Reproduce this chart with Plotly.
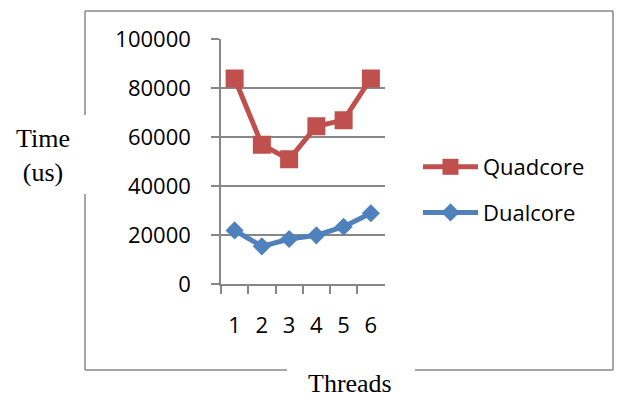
import plotly.graph_objects as go

threads = ["1", "2", "3", "4", "5", "6"]
quadcore = [84000, 57000, 51000, 64500, 67000, 84000]
dualcore = [22000, 15500, 18500, 20000, 23500, 29000]
y_ticks = [0, 20000, 40000, 60000, 80000, 100000]

W, H = 617, 398
RED = "#C0504D"
BLUE = "#4F81BD"
GRID = "#878787"


def px(x):
    return x / W


def py(y):
    return 1 - y / H


fig = go.Figure()
fig.add_trace(go.Scatter(
    x=threads, y=quadcore, name="Quadcore", mode="lines+markers",
    line=dict(color=RED, width=5), legendgroup="q",
    marker=dict(symbol="square", size=18, color=RED),
))
fig.add_trace(go.Scatter(
    x=threads, y=dualcore, name="Dualcore", mode="lines+markers",
    line=dict(color=BLUE, width=5), legendgroup="d",
    marker=dict(symbol="diamond", size=14, color=BLUE),
))

frame = [
    ((85, 11), (613, 11)),
    ((613, 11), (613, 370)),
    ((85, 370), (287, 370)),
    ((415, 370), (613, 370)),
    ((85, 11), (85, 115)),
    ((85, 194), (85, 370)),
]
shapes = [
    dict(type="line", xref="paper", yref="paper",
         x0=px(a[0]), y0=py(a[1]), x1=px(b[0]), y1=py(b[1]),
         line=dict(color=GRID, width=1.5))
    for a, b in frame
]

tick_font = dict(family="Open Sans", size=22, color="black")
serif = dict(family="Liberation Serif", size=26, color="black")

fig.update_layout(
    width=W, height=H, autosize=False,
    margin=dict(l=0, r=0, t=0, b=0),
    paper_bgcolor="white", plot_bgcolor="white",
    shapes=shapes,
    xaxis=dict(
        domain=[px(221), px(384.5)], type="category",
        range=[-0.5, 5.5], showgrid=False,
        showline=True, linecolor=GRID, linewidth=1.5,
        ticks="outside", tickson="boundaries", ticklen=8, tickwidth=1.5,
        tickcolor=GRID, tickfont=tick_font, ticklabelstandoff=21,
        automargin=False, zeroline=False, fixedrange=True,
    ),
    yaxis=dict(
        domain=[py(284.3), py(39.3)], range=[0, 100000],
        tickvals=y_ticks, ticktext=[str(v) for v in y_ticks],
        showgrid=True, gridcolor=GRID, gridwidth=1.5,
        showline=True, linecolor=GRID, linewidth=1.5,
        ticks="outside", ticklen=8, tickwidth=1.5, tickcolor=GRID,
        tickfont=tick_font, ticklabelstandoff=16,
        automargin=False, zeroline=False, fixedrange=True,
    ),
    legend=dict(
        x=px(418), y=py(146), xanchor="left", yanchor="top",
        font=tick_font, itemwidth=55, tracegroupgap=14,
        bgcolor="rgba(0,0,0,0)", borderwidth=0,
    ),
    annotations=[
        dict(text="Time<br>(us)", xref="paper", yref="paper",
             x=px(43), y=py(156), xanchor="center", yanchor="middle",
             showarrow=False, font=serif),
        dict(text="Threads", xref="paper", yref="paper",
             x=px(350), y=py(383), xanchor="center", yanchor="middle",
             showarrow=False, font=serif),
    ],
)

fig.write_html("out.html")
